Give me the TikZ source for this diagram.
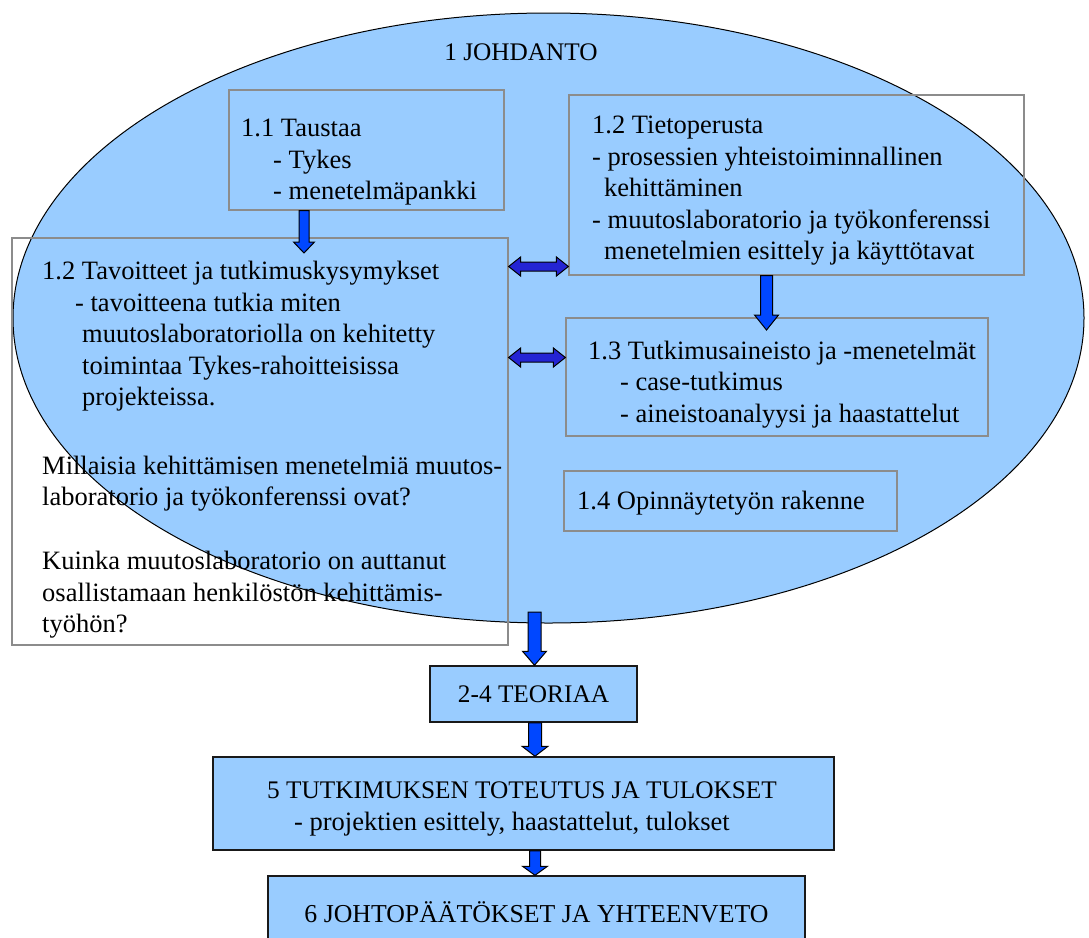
\documentclass[tikz,border=0pt]{standalone}
\usepackage{fontspec}
\setmainfont{Liberation Serif}
\usetikzlibrary{calc,shapes.geometric}

\definecolor{paleblue}{RGB}{153,204,255}
\definecolor{arrowblue}{RGB}{0,71,255}
\definecolor{darkarrow}{RGB}{36,36,212}
\definecolor{framegray}{RGB}{140,140,140}
\definecolor{edgedark}{RGB}{25,25,25}

% body text and capital headings are set at slightly different sizes
\newcommand\bodysize{\fontsize{26.5}{31.5}\selectfont}
\newcommand\capsize{\fontsize{25.3}{31.5}\selectfont}

\tikzset{
  txt/.style={inner sep=0pt, align=left, anchor=north west, font=\bodysize},
  ctxt/.style={inner sep=0pt, font=\capsize},
  innerbox/.style={draw=framegray, line width=1.2pt, inner sep=0pt},
  outerbox/.style={draw=edgedark, fill=paleblue, line width=1.5pt, inner sep=0pt},
  downfill/.style={fill=arrowblue, draw=black, line width=1pt, line join=miter},
  sidefill/.style={fill=darkarrow, draw=black, line width=1pt, line join=miter},
}

% vertical block arrow: start, tip, half shaft width, half head width, head length
\newcommand\downblock[5]{%
  \path let \p1=(#1), \p2=(#2) in [downfill]
    (\x1-#3,\y1) -- (\x1+#3,\y1) -- (\x1+#3,\y2+#5) -- (\x1+#4,\y2+#5)
    -- (\x1,\y2) -- (\x1-#4,\y2+#5) -- (\x1-#3,\y2+#5) -- cycle;}

% horizontal two-headed block arrow: left tip, right tip, half shaft, half head, head length
\newcommand\sideblock[5]{%
  \path let \p1=(#1), \p2=(#2) in [sidefill]
    (\x1,\y1) -- (\x1+#5,\y1+#4) -- (\x1+#5,\y1+#3) -- (\x2-#5,\y1+#3)
    -- (\x2-#5,\y1+#4) -- (\x2,\y1) -- (\x2-#5,\y1-#4) -- (\x2-#5,\y1-#3)
    -- (\x1+#5,\y1-#3) -- (\x1+#5,\y1-#4) -- cycle;}

\begin{document}
\begin{tikzpicture}[x=1pt,y=-1pt]
  \useasboundingbox (0,0) rectangle (1089,937);
  \clip (0,0) rectangle (1089,937);

  % introduction chapter as a large ellipse
  \node[ellipse, draw=black, fill=paleblue, line width=1pt, inner sep=0pt,
        minimum width=1071, minimum height=610] (intro) at (548.5,318) {};
  \node[ctxt] (introtitle) at (521,52) {1 JOHDANTO};

  % sections inside the introduction
  \node[innerbox, minimum width=275, minimum height=120] (b11) at (366.5,150) {};
  \node[innerbox, minimum width=455, minimum height=180] (b12a) at (796.5,185) {};
  \node[innerbox, minimum width=496, minimum height=407] (b12b) at (260,441.5) {};
  \node[innerbox, minimum width=422, minimum height=118] (b13) at (777,377) {};
  \node[innerbox, minimum width=333, minimum height=60] (b14) at (730.5,501) {};

  \node[txt] (t11) at (241,119) {1.1 Taustaa\\
    \hspace*{32pt}- Tykes\\
    \hspace*{32pt}- menetelmäpankki};

  \node[txt] (t12a) at (592,116) {1.2 Tietoperusta\\
    - prosessien yhteistoiminnallinen\\
    \hspace*{12pt}kehittäminen\\
    - muutoslaboratorio ja työkonferenssi\\
    \hspace*{12pt}menetelmien esittely ja käyttötavat};

  \node[txt] (t12b) at (42,261) {1.2 Tavoitteet ja tutkimuskysymykset\\
    \hspace*{33pt}- tavoitteena tutkia miten\\
    \hspace*{40pt}muutoslaboratoriolla on kehitetty\\
    \hspace*{40pt}toimintaa Tykes-rahoitteisissa\\
    \hspace*{40pt}projekteissa.\\[37pt]
    Millaisia kehittämisen menetelmiä muutos-\\
    laboratorio ja työkonferenssi ovat?\\[32.5pt]
    Kuinka muutoslaboratorio on auttanut\\
    osallistamaan henkilöstön kehittämis-\\
    työhön?};

  \node[txt] (t13) at (588,340.5) {1.3 Tutkimusaineisto ja -menetelmät\\
    \hspace*{32pt}- case-tutkimus\\
    \hspace*{32pt}- aineistoanalyysi ja haastattelut};

  \node[txt] (t14) at (577,491) {1.4 Opinnäytetyön rakenne};

  % later chapters
  \node[outerbox, minimum width=207, minimum height=56] (b24) at (533.5,694) {};
  \node[ctxt] (t24) at (b24) {2-4 TEORIAA};

  \node[outerbox, minimum width=621, minimum height=93] (b5) at (523.5,803.5) {};
  \node[txt] (t5) at (267,782) {{\capsize 5 TUTKIMUKSEN TOTEUTUS JA TULOKSET}\\
    \hspace*{27pt}- projektien esittely, haastattelut, tulokset};

  \node[outerbox, minimum width=537, minimum height=90] (b6) at (536.5,921) {};
  \node[ctxt, font=\fontsize{25.8}{31.5}\selectfont] (t6) at (536.5,912)
    {6 JOHTOPÄÄTÖKSET JA YHTEENVETO};

  % arrow end points
  \coordinate (a1s) at (b11.south -| 304,0);
  \coordinate (a1e) at (304,253);
  \coordinate (a2s) at (b12a.south -| 766.5,0);
  \coordinate (a2e) at (766.5,330);
  \coordinate (a3s) at (534.5,612);
  \coordinate (a3e) at (b24.north -| 534.5,0);
  \coordinate (a4s) at (b24.south -| 535,0);
  \coordinate (a4e) at (b5.north -| 535,0);
  \coordinate (a5s) at (b5.south -| 535,0);
  \coordinate (a5e) at (b6.north -| 535,0);
  \coordinate (h1l) at (b12b.east |- 0,266.5);
  \coordinate (h1r) at (b12a.west |- 0,266.5);
  \coordinate (h2l) at (b12b.east |- 0,357.5);
  \coordinate (h2r) at (b13.west |- 0,357.5);

  \downblock{a1s}{a1e}{5pt}{10.5pt}{11pt}
  \downblock{a2s}{a2e}{6pt}{12pt}{15pt}
  \downblock{a3s}{a3e}{6.5pt}{12pt}{14pt}
  \downblock{a4s}{a4e}{6.5pt}{13pt}{10pt}
  \downblock{a5s}{a5e}{5.5pt}{12.5pt}{9pt}

  \sideblock{h1l}{h1r}{4.5pt}{9.5pt}{12pt}
  \sideblock{h2l}{h2r}{4.5pt}{9.5pt}{12pt}
\end{tikzpicture}
\end{document}
